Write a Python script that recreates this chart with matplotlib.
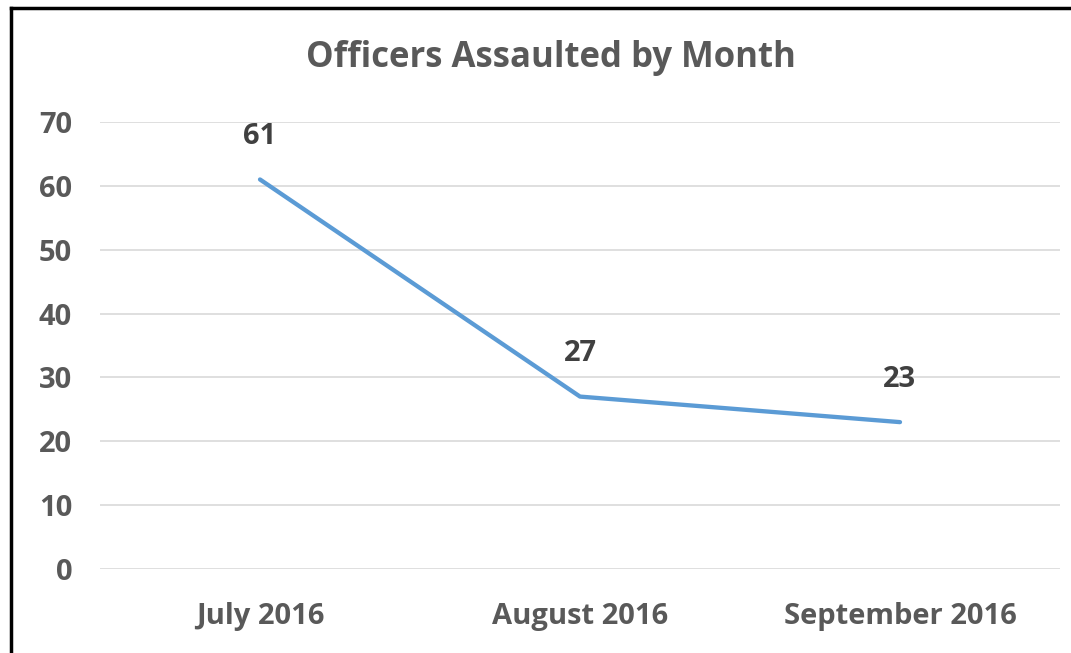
import matplotlib.pyplot as plt
from matplotlib.lines import Line2D

# Data
months = ["July 2016", "August 2016", "September 2016"]
assaults = [61, 27, 23]
y_ticks = [0, 10, 20, 30, 40, 50, 60, 70]

plt.rcParams['font.family'] = ['Open Sans', 'DejaVu Sans']

fig = plt.figure(figsize=(10.71, 6.53), dpi=100)
ax = fig.add_axes([100 / 1071, 1 - 569 / 653, 960 / 1071, 447 / 653])

x = list(range(len(months)))
ax.plot(x, assaults, color='#5B9BD5', linewidth=3.1, solid_capstyle='round', zorder=3)

for xi, v in zip(x, assaults):
    ax.annotate(str(v), (xi, v), xytext=(0, 31), textcoords='offset points',
                ha='center', va='center', fontsize=21, fontweight='bold', color='#404040')

ax.set_xlim(-0.5, 2.5)
ax.set_ylim(0, 70)
ax.set_yticks(y_ticks)
ax.set_xticks(x)
ax.set_xticklabels(months)
ax.grid(axis='y', color='#D9D9D9', linewidth=1.2)
ax.set_axisbelow(True)
for s in ax.spines.values():
    s.set_visible(False)
ax.tick_params(length=0, labelsize=21, labelcolor='#595959')
ax.tick_params(axis='y', pad=20)
ax.tick_params(axis='x', pad=24)
for lbl in ax.get_xticklabels() + ax.get_yticklabels():
    lbl.set_fontweight('bold')

fig.text(551 / 1071, 1 - 58 / 653, "Officers Assaulted by Month", ha='center', va='center',
         fontsize=25, fontweight='bold', color='#595959')

# Frame edges from the screenshot
fig.add_artist(Line2D([11 / 1071, 11 / 1071], [0, 1 - 8 / 653], color='black', linewidth=2.5))
fig.add_artist(Line2D([11 / 1071, 1], [1 - 8 / 653, 1 - 8 / 653], color='black', linewidth=2.5))

fig.savefig("out.png", dpi=100)
